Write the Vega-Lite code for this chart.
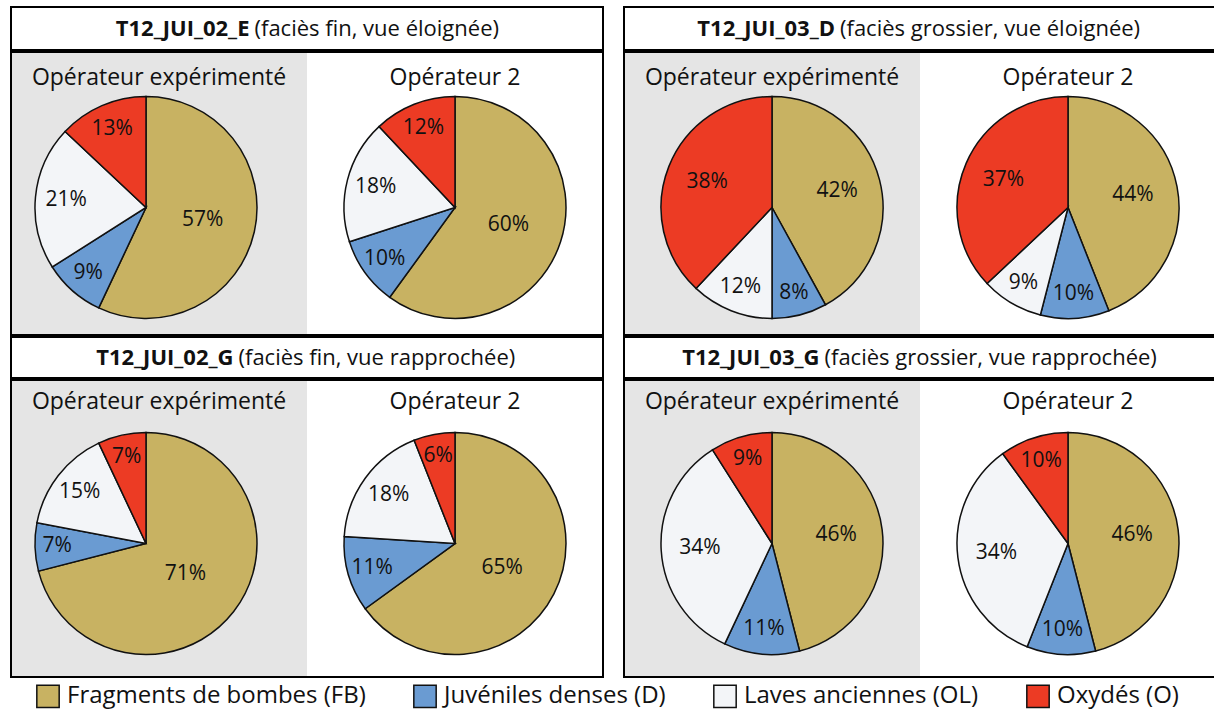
{
  "$schema": "https://vega.github.io/schema/vega-lite/v6.json",
  "padding": {"left": 10, "top": 6, "right": 0, "bottom": 0},
  "config": {"view": {"stroke": null}, "font": "Open Sans", "concat": {"spacing": 0}},
  "datasets": {
    "pies": [
      {"panel": "A", "operateur": "Opérateur expérimenté", "categorie": "Fragments de bombes (FB)", "valeur": 0.57},
      {"panel": "A", "operateur": "Opérateur expérimenté", "categorie": "Juvéniles denses (D)", "valeur": 0.09},
      {"panel": "A", "operateur": "Opérateur expérimenté", "categorie": "Laves anciennes (OL)", "valeur": 0.21},
      {"panel": "A", "operateur": "Opérateur expérimenté", "categorie": "Oxydés (O)", "valeur": 0.13},
      {"panel": "A", "operateur": "Opérateur 2", "categorie": "Fragments de bombes (FB)", "valeur": 0.60},
      {"panel": "A", "operateur": "Opérateur 2", "categorie": "Juvéniles denses (D)", "valeur": 0.10},
      {"panel": "A", "operateur": "Opérateur 2", "categorie": "Laves anciennes (OL)", "valeur": 0.18},
      {"panel": "A", "operateur": "Opérateur 2", "categorie": "Oxydés (O)", "valeur": 0.12},
      {"panel": "B", "operateur": "Opérateur expérimenté", "categorie": "Fragments de bombes (FB)", "valeur": 0.42},
      {"panel": "B", "operateur": "Opérateur expérimenté", "categorie": "Juvéniles denses (D)", "valeur": 0.08},
      {"panel": "B", "operateur": "Opérateur expérimenté", "categorie": "Laves anciennes (OL)", "valeur": 0.12},
      {"panel": "B", "operateur": "Opérateur expérimenté", "categorie": "Oxydés (O)", "valeur": 0.38},
      {"panel": "B", "operateur": "Opérateur 2", "categorie": "Fragments de bombes (FB)", "valeur": 0.44},
      {"panel": "B", "operateur": "Opérateur 2", "categorie": "Juvéniles denses (D)", "valeur": 0.10},
      {"panel": "B", "operateur": "Opérateur 2", "categorie": "Laves anciennes (OL)", "valeur": 0.09},
      {"panel": "B", "operateur": "Opérateur 2", "categorie": "Oxydés (O)", "valeur": 0.37},
      {"panel": "C", "operateur": "Opérateur expérimenté", "categorie": "Fragments de bombes (FB)", "valeur": 0.71},
      {"panel": "C", "operateur": "Opérateur expérimenté", "categorie": "Juvéniles denses (D)", "valeur": 0.07},
      {"panel": "C", "operateur": "Opérateur expérimenté", "categorie": "Laves anciennes (OL)", "valeur": 0.15},
      {"panel": "C", "operateur": "Opérateur expérimenté", "categorie": "Oxydés (O)", "valeur": 0.07},
      {"panel": "C", "operateur": "Opérateur 2", "categorie": "Fragments de bombes (FB)", "valeur": 0.65},
      {"panel": "C", "operateur": "Opérateur 2", "categorie": "Juvéniles denses (D)", "valeur": 0.11},
      {"panel": "C", "operateur": "Opérateur 2", "categorie": "Laves anciennes (OL)", "valeur": 0.18},
      {"panel": "C", "operateur": "Opérateur 2", "categorie": "Oxydés (O)", "valeur": 0.06},
      {"panel": "D", "operateur": "Opérateur expérimenté", "categorie": "Fragments de bombes (FB)", "valeur": 0.46},
      {"panel": "D", "operateur": "Opérateur expérimenté", "categorie": "Juvéniles denses (D)", "valeur": 0.11},
      {"panel": "D", "operateur": "Opérateur expérimenté", "categorie": "Laves anciennes (OL)", "valeur": 0.34},
      {"panel": "D", "operateur": "Opérateur expérimenté", "categorie": "Oxydés (O)", "valeur": 0.09},
      {"panel": "D", "operateur": "Opérateur 2", "categorie": "Fragments de bombes (FB)", "valeur": 0.46},
      {"panel": "D", "operateur": "Opérateur 2", "categorie": "Juvéniles denses (D)", "valeur": 0.10},
      {"panel": "D", "operateur": "Opérateur 2", "categorie": "Laves anciennes (OL)", "valeur": 0.34},
      {"panel": "D", "operateur": "Opérateur 2", "categorie": "Oxydés (O)", "valeur": 0.10}
    ],
    "titres": [
      {"panel": "A", "id": "T12_JUI_02_E", "desc": "(faciès fin, vue éloignée)"},
      {"panel": "B", "id": "T12_JUI_03_D", "desc": "(faciès grossier, vue éloignée)"},
      {"panel": "C", "id": "T12_JUI_02_G", "desc": "(faciès fin, vue rapprochée)"},
      {"panel": "D", "id": "T12_JUI_03_G", "desc": "(faciès grossier, vue rapprochée)"}
    ]
  },
  "vconcat": [
    {
      "hconcat": [
        {
          "vconcat": [
            {
              "width": 592, "height": 43,
              "data": {"name": "titres"},
              "transform": [{"filter": "datum.panel === 'A'"}],
              "layer": [
                {"mark": {"type": "rect", "fill": "white", "stroke": "black", "strokeWidth": 2}, "encoding": {}},
                {"mark": {"type": "text", "fontWeight": "bold", "align": "right", "dx": -57.5, "fontSize": 22, "color": "#111"}, "encoding": {"text": {"field": "id"}}},
                {"mark": {"type": "text", "align": "left", "dx": -52.5, "fontSize": 22, "color": "#111"}, "encoding": {"text": {"field": "desc"}}}
              ]
            },
            {
              "width": 592, "height": 283,
              "data": {"name": "pies"},
              "transform": [{"filter": "datum.panel === 'A'"}],
              "layer": [
                {"transform": [{"filter": "datum.operateur === 'Opérateur expérimenté' && datum.categorie === 'Oxydés (O)'"}], "mark": {"type": "rect", "fill": "#e5e5e5"}, "encoding": {"x": {"field": "operateur", "type": "nominal", "scale": {"type": "band", "domain": ["Opérateur expérimenté", "Opérateur 2"], "paddingInner": 0, "paddingOuter": 0}, "axis": null}}},
                {"transform": [{"filter": "datum.categorie === 'Oxydés (O)'"}], "mark": {"type": "text", "fontSize": 23, "color": "#111", "dy": -115.5}, "encoding": {"x": {"field": "operateur", "type": "nominal", "axis": null}, "text": {"field": "operateur"}}},
                {"transform": [{"filter": "datum.operateur === 'Opérateur expérimenté'"}], "mark": {"type": "arc", "outerRadius": 111, "stroke": "#111", "strokeWidth": 1.5, "yOffset": 14, "xOffset": -13}, "encoding": {"x": {"field": "operateur", "type": "nominal", "axis": null}, "theta": {"field": "valeur", "type": "quantitative", "stack": true, "scale": {"domain": [0, 1]}}, "color": {"field": "categorie", "type": "nominal", "scale": {"domain": ["Fragments de bombes (FB)", "Juvéniles denses (D)", "Laves anciennes (OL)", "Oxydés (O)"], "range": ["#c8b262", "#6a9bd2", "#f3f5f8", "#ec3b24"]}, "legend": {"title": null, "orient": "none", "legendX": 25, "legendY": 677, "direction": "horizontal", "symbolType": "square", "symbolSize": 500, "symbolStrokeColor": "#222", "symbolStrokeWidth": 1.5, "symbolOpacity": 1, "labelFont": "Open Sans", "labelFontSize": 24, "labelColor": "#111", "columnPadding": 44, "labelOffset": 7, "labelLimit": 0}}, "order": {"field": "categorie", "type": "ordinal", "sort": "ascending"}}},
                {"transform": [{"filter": "datum.operateur === 'Opérateur expérimenté'"}], "mark": {"type": "text", "fontSize": 21, "color": "#111", "yOffset": 14, "xOffset": -13}, "encoding": {"x": {"field": "operateur", "type": "nominal", "axis": null}, "theta": {"field": "valeur", "type": "quantitative", "stack": true}, "radius": {"field": "valeur", "type": "quantitative", "scale": {"type": "linear", "domain": [0.05, 0.7], "range": [90, 50], "zero": false, "clamp": true}}, "detail": {"field": "categorie"}, "order": {"field": "categorie", "type": "ordinal", "sort": "ascending"}, "text": {"field": "valeur", "type": "quantitative", "format": ".0%"}}},
                {"transform": [{"filter": "datum.operateur === 'Opérateur 2'"}], "mark": {"type": "arc", "outerRadius": 111, "stroke": "#111", "strokeWidth": 1.5, "yOffset": 14}, "encoding": {"x": {"field": "operateur", "type": "nominal", "axis": null}, "theta": {"field": "valeur", "type": "quantitative", "stack": true}, "color": {"field": "categorie", "type": "nominal"}, "order": {"field": "categorie", "type": "ordinal", "sort": "ascending"}}},
                {"transform": [{"filter": "datum.operateur === 'Opérateur 2'"}], "mark": {"type": "text", "fontSize": 21, "color": "#111", "yOffset": 14}, "encoding": {"x": {"field": "operateur", "type": "nominal", "axis": null}, "theta": {"field": "valeur", "type": "quantitative", "stack": true}, "radius": {"field": "valeur", "type": "quantitative"}, "detail": {"field": "categorie"}, "order": {"field": "categorie", "type": "ordinal", "sort": "ascending"}, "text": {"field": "valeur", "type": "quantitative", "format": ".0%"}}},
                {"transform": [{"filter": "datum.operateur === 'Opérateur expérimenté' && datum.categorie === 'Oxydés (O)'"}], "mark": {"type": "rect", "fillOpacity": 0, "stroke": "black", "strokeWidth": 2}, "encoding": {}}
              ]
            }
          ]
        },
        {
          "vconcat": [
            {
              "width": 592, "height": 43,
              "data": {"name": "titres"},
              "transform": [{"filter": "datum.panel === 'B'"}],
              "layer": [
                {"mark": {"type": "rect", "fill": "white", "stroke": "black", "strokeWidth": 2}, "encoding": {}},
                {"mark": {"type": "text", "fontWeight": "bold", "align": "right", "dx": -85, "fontSize": 22, "color": "#111"}, "encoding": {"text": {"field": "id"}}},
                {"mark": {"type": "text", "align": "left", "dx": -80, "fontSize": 22, "color": "#111"}, "encoding": {"text": {"field": "desc"}}}
              ]
            },
            {
              "width": 592, "height": 283,
              "data": {"name": "pies"},
              "transform": [{"filter": "datum.panel === 'B'"}],
              "layer": [
                {"transform": [{"filter": "datum.operateur === 'Opérateur expérimenté' && datum.categorie === 'Oxydés (O)'"}], "mark": {"type": "rect", "fill": "#e5e5e5"}, "encoding": {"x": {"field": "operateur", "type": "nominal", "scale": {"type": "band", "domain": ["Opérateur expérimenté", "Opérateur 2"], "paddingInner": 0, "paddingOuter": 0}, "axis": null}}},
                {"transform": [{"filter": "datum.categorie === 'Oxydés (O)'"}], "mark": {"type": "text", "fontSize": 23, "color": "#111", "dy": -115.5}, "encoding": {"x": {"field": "operateur", "type": "nominal", "axis": null}, "text": {"field": "operateur"}}},
                {"transform": [{"filter": "datum.operateur === 'Opérateur expérimenté'"}], "mark": {"type": "arc", "outerRadius": 111, "stroke": "#111", "strokeWidth": 1.5, "yOffset": 14}, "encoding": {"x": {"field": "operateur", "type": "nominal", "axis": null}, "theta": {"field": "valeur", "type": "quantitative", "stack": true, "scale": {"domain": [0, 1]}}, "color": {"field": "categorie", "type": "nominal"}, "order": {"field": "categorie", "type": "ordinal", "sort": "ascending"}}},
                {"transform": [{"filter": "datum.operateur === 'Opérateur expérimenté'"}], "mark": {"type": "text", "fontSize": 21, "color": "#111", "yOffset": 14}, "encoding": {"x": {"field": "operateur", "type": "nominal", "axis": null}, "theta": {"field": "valeur", "type": "quantitative", "stack": true}, "radius": {"field": "valeur", "type": "quantitative", "scale": {"type": "linear", "domain": [0.05, 0.7], "range": [90, 50], "zero": false, "clamp": true}}, "detail": {"field": "categorie"}, "order": {"field": "categorie", "type": "ordinal", "sort": "ascending"}, "text": {"field": "valeur", "type": "quantitative", "format": ".0%"}}},
                {"transform": [{"filter": "datum.operateur === 'Opérateur 2'"}], "mark": {"type": "arc", "outerRadius": 111, "stroke": "#111", "strokeWidth": 1.5, "yOffset": 14}, "encoding": {"x": {"field": "operateur", "type": "nominal", "axis": null}, "theta": {"field": "valeur", "type": "quantitative", "stack": true}, "color": {"field": "categorie", "type": "nominal"}, "order": {"field": "categorie", "type": "ordinal", "sort": "ascending"}}},
                {"transform": [{"filter": "datum.operateur === 'Opérateur 2'"}], "mark": {"type": "text", "fontSize": 21, "color": "#111", "yOffset": 14}, "encoding": {"x": {"field": "operateur", "type": "nominal", "axis": null}, "theta": {"field": "valeur", "type": "quantitative", "stack": true}, "radius": {"field": "valeur", "type": "quantitative"}, "detail": {"field": "categorie"}, "order": {"field": "categorie", "type": "ordinal", "sort": "ascending"}, "text": {"field": "valeur", "type": "quantitative", "format": ".0%"}}},
                {"transform": [{"filter": "datum.operateur === 'Opérateur expérimenté' && datum.categorie === 'Oxydés (O)'"}], "mark": {"type": "rect", "fillOpacity": 0, "stroke": "black", "strokeWidth": 2}, "encoding": {}}
              ]
            }
          ]
        }
      ],
      "spacing": 19
    },
    {
      "hconcat": [
        {
          "vconcat": [
            {
              "width": 592, "height": 41,
              "data": {"name": "titres"},
              "transform": [{"filter": "datum.panel === 'C'"}],
              "layer": [
                {"mark": {"type": "rect", "fill": "white", "stroke": "black", "strokeWidth": 2}, "encoding": {}},
                {"mark": {"type": "text", "fontWeight": "bold", "align": "right", "dx": -73.5, "fontSize": 22, "color": "#111"}, "encoding": {"text": {"field": "id"}}},
                {"mark": {"type": "text", "align": "left", "dx": -68.5, "fontSize": 22, "color": "#111"}, "encoding": {"text": {"field": "desc"}}}
              ]
            },
            {
              "width": 592, "height": 297,
              "data": {"name": "pies"},
              "transform": [{"filter": "datum.panel === 'C'"}],
              "layer": [
                {"transform": [{"filter": "datum.operateur === 'Opérateur expérimenté' && datum.categorie === 'Oxydés (O)'"}], "mark": {"type": "rect", "fill": "#e5e5e5"}, "encoding": {"x": {"field": "operateur", "type": "nominal", "scale": {"type": "band", "domain": ["Opérateur expérimenté", "Opérateur 2"], "paddingInner": 0, "paddingOuter": 0}, "axis": null}}},
                {"transform": [{"filter": "datum.categorie === 'Oxydés (O)'"}], "mark": {"type": "text", "fontSize": 23, "color": "#111", "dy": -126.5}, "encoding": {"x": {"field": "operateur", "type": "nominal", "axis": null}, "text": {"field": "operateur"}}},
                {"transform": [{"filter": "datum.operateur === 'Opérateur expérimenté'"}], "mark": {"type": "arc", "outerRadius": 111, "stroke": "#111", "strokeWidth": 1.5, "yOffset": 15, "xOffset": -13}, "encoding": {"x": {"field": "operateur", "type": "nominal", "axis": null}, "theta": {"field": "valeur", "type": "quantitative", "stack": true, "scale": {"domain": [0, 1]}}, "color": {"field": "categorie", "type": "nominal"}, "order": {"field": "categorie", "type": "ordinal", "sort": "ascending"}}},
                {"transform": [{"filter": "datum.operateur === 'Opérateur expérimenté'"}], "mark": {"type": "text", "fontSize": 21, "color": "#111", "yOffset": 15, "xOffset": -13}, "encoding": {"x": {"field": "operateur", "type": "nominal", "axis": null}, "theta": {"field": "valeur", "type": "quantitative", "stack": true}, "radius": {"field": "valeur", "type": "quantitative", "scale": {"type": "linear", "domain": [0.05, 0.7], "range": [90, 50], "zero": false, "clamp": true}}, "detail": {"field": "categorie"}, "order": {"field": "categorie", "type": "ordinal", "sort": "ascending"}, "text": {"field": "valeur", "type": "quantitative", "format": ".0%"}}},
                {"transform": [{"filter": "datum.operateur === 'Opérateur 2'"}], "mark": {"type": "arc", "outerRadius": 111, "stroke": "#111", "strokeWidth": 1.5, "yOffset": 15}, "encoding": {"x": {"field": "operateur", "type": "nominal", "axis": null}, "theta": {"field": "valeur", "type": "quantitative", "stack": true}, "color": {"field": "categorie", "type": "nominal"}, "order": {"field": "categorie", "type": "ordinal", "sort": "ascending"}}},
                {"transform": [{"filter": "datum.operateur === 'Opérateur 2'"}], "mark": {"type": "text", "fontSize": 21, "color": "#111", "yOffset": 15}, "encoding": {"x": {"field": "operateur", "type": "nominal", "axis": null}, "theta": {"field": "valeur", "type": "quantitative", "stack": true}, "radius": {"field": "valeur", "type": "quantitative"}, "detail": {"field": "categorie"}, "order": {"field": "categorie", "type": "ordinal", "sort": "ascending"}, "text": {"field": "valeur", "type": "quantitative", "format": ".0%"}}},
                {"transform": [{"filter": "datum.operateur === 'Opérateur expérimenté' && datum.categorie === 'Oxydés (O)'"}], "mark": {"type": "rect", "fillOpacity": 0, "stroke": "black", "strokeWidth": 2}, "encoding": {}}
              ]
            }
          ]
        },
        {
          "vconcat": [
            {
              "width": 592, "height": 41,
              "data": {"name": "titres"},
              "transform": [{"filter": "datum.panel === 'D'"}],
              "layer": [
                {"mark": {"type": "rect", "fill": "white", "stroke": "black", "strokeWidth": 2}, "encoding": {}},
                {"mark": {"type": "text", "fontWeight": "bold", "align": "right", "dx": -100.5, "fontSize": 22, "color": "#111"}, "encoding": {"text": {"field": "id"}}},
                {"mark": {"type": "text", "align": "left", "dx": -95.5, "fontSize": 22, "color": "#111"}, "encoding": {"text": {"field": "desc"}}}
              ]
            },
            {
              "width": 592, "height": 297,
              "data": {"name": "pies"},
              "transform": [{"filter": "datum.panel === 'D'"}],
              "layer": [
                {"transform": [{"filter": "datum.operateur === 'Opérateur expérimenté' && datum.categorie === 'Oxydés (O)'"}], "mark": {"type": "rect", "fill": "#e5e5e5"}, "encoding": {"x": {"field": "operateur", "type": "nominal", "scale": {"type": "band", "domain": ["Opérateur expérimenté", "Opérateur 2"], "paddingInner": 0, "paddingOuter": 0}, "axis": null}}},
                {"transform": [{"filter": "datum.categorie === 'Oxydés (O)'"}], "mark": {"type": "text", "fontSize": 23, "color": "#111", "dy": -126.5}, "encoding": {"x": {"field": "operateur", "type": "nominal", "axis": null}, "text": {"field": "operateur"}}},
                {"transform": [{"filter": "datum.operateur === 'Opérateur expérimenté'"}], "mark": {"type": "arc", "outerRadius": 111, "stroke": "#111", "strokeWidth": 1.5, "yOffset": 15}, "encoding": {"x": {"field": "operateur", "type": "nominal", "axis": null}, "theta": {"field": "valeur", "type": "quantitative", "stack": true, "scale": {"domain": [0, 1]}}, "color": {"field": "categorie", "type": "nominal"}, "order": {"field": "categorie", "type": "ordinal", "sort": "ascending"}}},
                {"transform": [{"filter": "datum.operateur === 'Opérateur expérimenté'"}], "mark": {"type": "text", "fontSize": 21, "color": "#111", "yOffset": 15}, "encoding": {"x": {"field": "operateur", "type": "nominal", "axis": null}, "theta": {"field": "valeur", "type": "quantitative", "stack": true}, "radius": {"field": "valeur", "type": "quantitative", "scale": {"type": "linear", "domain": [0.05, 0.7], "range": [90, 50], "zero": false, "clamp": true}}, "detail": {"field": "categorie"}, "order": {"field": "categorie", "type": "ordinal", "sort": "ascending"}, "text": {"field": "valeur", "type": "quantitative", "format": ".0%"}}},
                {"transform": [{"filter": "datum.operateur === 'Opérateur 2'"}], "mark": {"type": "arc", "outerRadius": 111, "stroke": "#111", "strokeWidth": 1.5, "yOffset": 15}, "encoding": {"x": {"field": "operateur", "type": "nominal", "axis": null}, "theta": {"field": "valeur", "type": "quantitative", "stack": true}, "color": {"field": "categorie", "type": "nominal"}, "order": {"field": "categorie", "type": "ordinal", "sort": "ascending"}}},
                {"transform": [{"filter": "datum.operateur === 'Opérateur 2'"}], "mark": {"type": "text", "fontSize": 21, "color": "#111", "yOffset": 15}, "encoding": {"x": {"field": "operateur", "type": "nominal", "axis": null}, "theta": {"field": "valeur", "type": "quantitative", "stack": true}, "radius": {"field": "valeur", "type": "quantitative"}, "detail": {"field": "categorie"}, "order": {"field": "categorie", "type": "ordinal", "sort": "ascending"}, "text": {"field": "valeur", "type": "quantitative", "format": ".0%"}}},
                {"transform": [{"filter": "datum.operateur === 'Opérateur expérimenté' && datum.categorie === 'Oxydés (O)'"}], "mark": {"type": "rect", "fillOpacity": 0, "stroke": "black", "strokeWidth": 2}, "encoding": {}}
              ]
            }
          ]
        }
      ],
      "spacing": 19
    }
  ]
}
